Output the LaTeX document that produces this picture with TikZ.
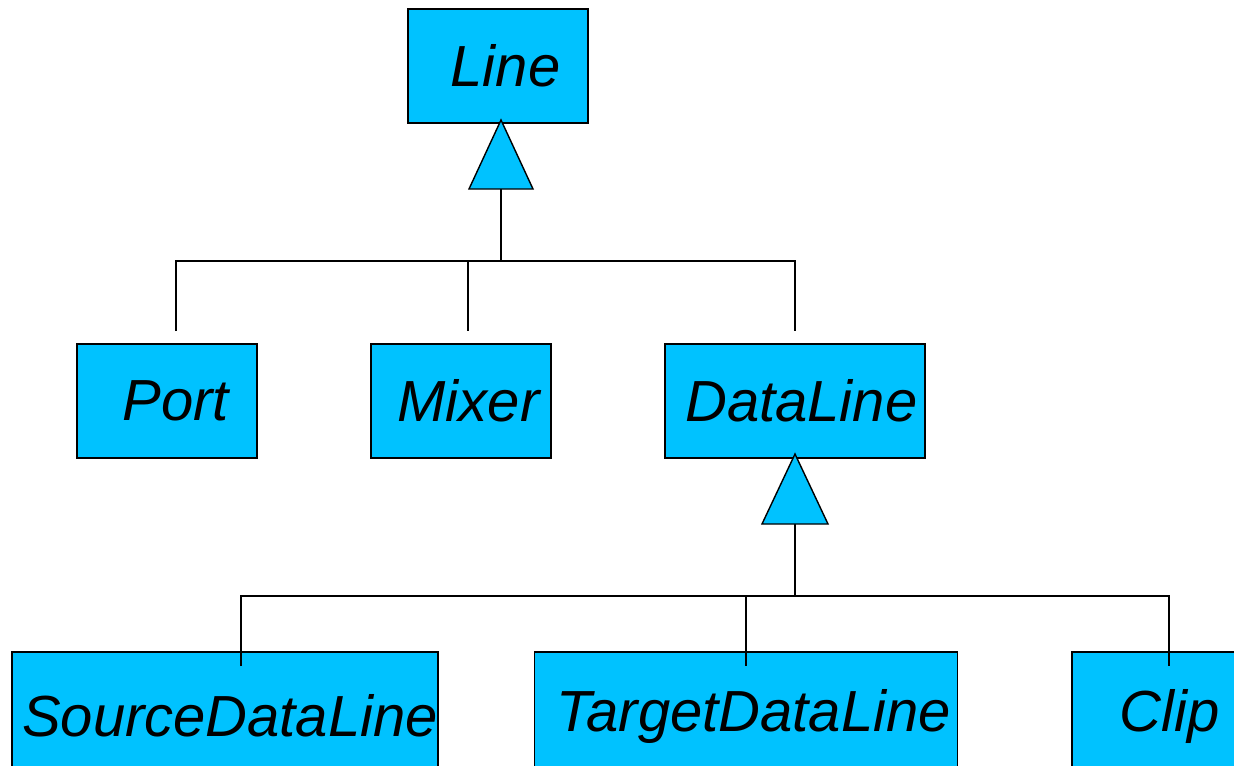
\documentclass[tikz,border=0pt]{standalone}
\usepackage{fontspec}
\setmainfont{Liberation Sans}
\usepackage{tikz}
\usetikzlibrary{positioning}
\definecolor{clsblue}{RGB}{0,194,255}

\begin{document}
\begin{tikzpicture}[x=0.02cm, y=-0.02cm]

\tikzstyle{cls}=[rectangle, draw, fill=clsblue, line width=0.8pt, minimum height=2.28cm, inner sep=0pt, font=\fontsize{33}{40}\selectfont\itshape]
\tikzstyle{leaf}=[cls, minimum height=2.56cm]
\tikzstyle{link}=[line width=0.8pt]
\tikzstyle{inherit}=[draw, fill=clsblue, line width=0.8pt, line join=miter]

\useasboundingbox (0,0) rectangle (1234,765);

% classes
\node (line)     [cls, minimum width=3.6cm]  at (498,66)  {\hspace{0.3cm}Line};
\node (port)     [cls, minimum width=3.6cm]  at (167,401) {\hspace{0.35cm}Port};
\node (mixer)    [cls, minimum width=3.6cm]  at (461,401) {\hspace{0.3cm}Mixer};
\node (dataline) [cls, minimum width=5.2cm]  at (795,401) {\hspace{0.25cm}DataLine};
\node (source)   [leaf, minimum width=8.48cm] at (225,716) {\hspace{0.2cm}SourceDataLine};
\node (target)   [leaf, minimum width=8.46cm] at (746,716) {\hspace{0.3cm}TargetDataLine};
\node (clip)     [leaf, minimum width=3.6cm]  at (1162,716) {\hspace{0.3cm}Clip};

% first level
\coordinate (top1) at (501,120);
\coordinate (base1) at (501,189);
\coordinate (bus1) at (501,261);
\coordinate (toport) at (176,331);
\coordinate (tomixer) at (468,331);
\coordinate (todata) at (795,331);

\draw [link] (base1) -- (bus1);
\draw [link] (toport) -- (toport |- bus1) -- (todata |- bus1) -- (todata);
\draw [link] (tomixer |- bus1) -- (tomixer);
\path [inherit] (top1) -- ++(-32,69) -- ++(64,0) -- cycle;

% second level
\coordinate (top2) at (795,454);
\coordinate (base2) at (795,524);
\coordinate (bus2) at (795,596);
\coordinate (tosource) at (241,666);
\coordinate (totarget) at (746,666);
\coordinate (toclip) at (1169,666);

\draw [link] (base2) -- (bus2);
\draw [link] (tosource) -- (tosource |- bus2) -- (toclip |- bus2) -- (toclip);
\draw [link] (totarget |- bus2) -- (totarget);
\path [inherit] (top2) -- ++(-33,70) -- ++(66,0) -- cycle;

\end{tikzpicture}
\end{document}
